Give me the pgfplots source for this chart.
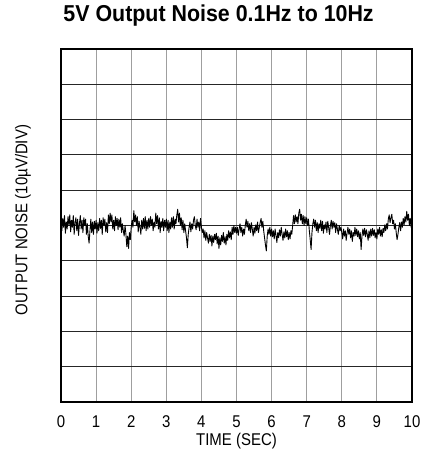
\documentclass[border=0pt]{standalone}
\usepackage{fontspec}
\setmainfont{Liberation Sans}[FakeStretch=0.88]
\newfontfamily\titlefont{Liberation Sans}[FakeStretch=0.93]
\newfontfamily\plainfont{Liberation Sans}
\usepackage{pgfplots}
\usepackage{pgfplotstable}
\pgfplotsset{compat=1.18}

% noise trace, microvolts vs seconds
\pgfplotstableread{
t y
0.000 3.0
0.025 -1.5
0.050 2.0
0.075 -0.5
0.100 2.8
0.125 -2.2
0.150 1.0
0.175 -1.0
0.200 2.5
0.225 0.0
0.250 3.0
0.275 -1.8
0.300 1.5
0.325 -0.5
0.350 2.8
0.375 -2.5
0.400 0.8
0.425 2.2
0.450 -1.5
0.475 1.8
0.500 -2.8
0.525 0.5
0.550 2.8
0.575 -1.0
0.600 1.5
0.625 -2.0
0.650 2.2
0.675 0.0
0.700 1.8
0.725 -2.5
0.750 0.5
0.775 -3.0
0.800 -5.0
0.825 -1.5
0.850 1.8
0.875 -2.0
0.900 1.0
0.925 -2.5
0.950 1.2
0.975 -1.0
1.000 1.5
1.025 -2.2
1.050 0.8
1.075 -1.5
1.100 2.0
1.125 -0.8
1.150 1.5
1.175 -2.5
1.200 2.2
1.225 0.0
1.250 1.8
1.275 -1.8
1.300 0.8
1.325 -2.0
1.350 3.0
1.375 0.5
1.400 3.5
1.425 1.0
1.450 3.0
1.475 -1.0
1.500 1.5
1.525 -1.5
1.550 2.5
1.575 0.0
1.600 2.0
1.625 -1.2
1.650 1.8
1.675 -0.5
1.700 2.2
1.725 -2.0
1.750 0.5
1.775 -1.5
1.800 -3.0
1.825 0.0
1.850 -2.5
1.875 -6.0
1.900 -3.0
1.925 -6.5
1.950 -2.0
1.975 -4.0
2.000 -0.5
2.025 1.5
2.050 -0.5
2.075 4.2
2.100 1.0
2.125 3.0
2.150 0.0
2.175 2.5
2.200 -1.8
2.225 1.2
2.250 -0.5
2.275 -2.5
2.300 1.5
2.325 -1.0
2.350 2.0
2.375 -0.8
2.400 2.5
2.425 -1.5
2.450 1.5
2.475 -1.0
2.500 2.0
2.525 -0.5
2.550 2.5
2.575 0.0
2.600 1.8
2.625 -1.5
2.650 1.0
2.675 -0.5
2.700 3.5
2.725 0.5
2.750 2.8
2.775 -1.0
2.800 2.2
2.825 -2.0
2.850 1.2
2.875 -0.5
2.900 2.0
2.925 -1.5
2.950 1.5
2.975 -0.5
3.000 1.8
3.025 -1.5
3.050 1.5
3.075 -2.0
3.100 1.0
3.125 -1.0
3.150 2.2
3.175 -0.5
3.200 2.5
3.225 -1.0
3.250 1.8
3.275 0.5
3.300 3.0
3.325 4.6
3.350 1.0
3.375 3.5
3.400 0.0
3.425 2.2
3.450 -1.2
3.475 1.5
3.500 -2.0
3.525 0.5
3.550 -1.5
3.575 -3.5
3.600 -6.3
3.625 -2.5
3.650 -0.5
3.675 1.0
3.700 -1.8
3.725 0.5
3.750 -1.0
3.775 1.5
3.800 2.5
3.825 0.0
3.850 -1.2
3.875 1.8
3.900 -0.5
3.925 1.0
3.950 -1.5
3.975 2.0
4.000 -0.5
4.025 -2.0
4.050 -1.0
4.075 -3.5
4.100 -1.5
4.125 -4.2
4.150 -2.0
4.175 -3.5
4.200 -5.0
4.225 -2.5
4.250 -4.5
4.275 -2.8
4.300 -5.8
4.325 -3.0
4.350 -4.8
4.375 -2.5
4.400 -4.0
4.425 -2.2
4.450 -5.2
4.475 -3.0
4.500 -6.5
4.525 -3.5
4.550 -5.5
4.575 -2.8
4.600 -4.5
4.625 -2.0
4.650 -5.0
4.675 -3.2
4.700 -5.5
4.725 -2.5
4.750 -4.2
4.775 -1.5
4.800 -3.5
4.825 -1.8
4.850 -4.0
4.875 -0.5
4.900 -2.5
4.925 0.0
4.950 -2.0
4.975 -0.5
5.000 -2.2
5.025 -0.5
5.050 -2.8
5.075 -1.0
5.100 0.5
5.125 -2.0
5.150 -0.5
5.175 -3.0
5.200 -1.0
5.225 -2.5
5.250 0.0
5.275 1.8
5.300 -0.5
5.325 1.2
5.350 -1.5
5.375 0.5
5.400 -2.0
5.425 0.8
5.450 -1.0
5.475 -3.0
5.500 -0.5
5.525 -2.2
5.550 0.2
5.575 -1.5
5.600 1.0
5.625 -2.0
5.650 -0.5
5.675 0.8
5.700 2.0
5.725 -0.5
5.750 1.2
5.775 -1.5
5.800 -3.5
5.825 -5.5
5.850 -7.2
5.875 -3.0
5.900 -1.0
5.925 -2.5
5.950 -0.5
5.975 -3.0
6.000 -1.0
6.025 -3.2
6.050 -1.5
6.075 -3.8
6.100 -1.0
6.125 -2.8
6.150 -4.8
6.175 -2.0
6.200 -3.5
6.225 -1.2
6.250 -3.0
6.275 -0.5
6.300 -2.5
6.325 -4.2
6.350 -1.8
6.375 -3.5
6.400 -1.0
6.425 -3.2
6.450 -1.5
6.475 -4.0
6.500 -2.0
6.525 -3.8
6.550 -1.5
6.575 -2.5
6.600 0.0
6.625 2.8
6.650 0.5
6.675 3.0
6.700 1.0
6.725 2.5
6.750 0.5
6.775 3.5
6.800 4.6
6.825 1.5
6.850 3.2
6.875 0.5
6.900 2.8
6.925 0.0
6.950 2.5
6.975 0.5
7.000 2.2
7.025 0.0
7.050 1.8
7.075 -1.5
7.100 -4.0
7.125 -6.8
7.150 -2.0
7.175 0.5
7.200 1.8
7.225 -0.5
7.250 1.5
7.275 -1.5
7.300 0.8
7.325 -2.0
7.350 0.5
7.375 -0.8
7.400 1.5
7.425 -1.5
7.450 1.2
7.475 -2.2
7.500 0.2
7.525 -1.0
7.550 1.0
7.575 -2.0
7.600 1.2
7.625 -0.5
7.650 -2.5
7.675 0.0
7.700 1.5
7.725 -1.0
7.750 1.2
7.775 -0.5
7.800 0.8
7.825 -2.0
7.850 0.5
7.875 -1.0
7.900 -2.5
7.925 0.0
7.950 -1.5
7.975 -0.5
8.000 -2.0
8.025 -3.8
8.050 -1.0
8.075 -3.0
8.100 -1.5
8.125 -4.2
8.150 -2.2
8.175 -0.5
8.200 -2.5
8.225 -1.0
8.250 -3.5
8.275 -1.5
8.300 -4.5
8.325 -2.0
8.350 -3.0
8.375 -0.5
8.400 -2.8
8.425 -1.0
8.450 -3.2
8.475 -1.5
8.500 -3.8
8.525 -2.0
8.550 -6.8
8.575 -3.0
8.600 -1.0
8.625 -2.8
8.650 -0.8
8.675 -3.2
8.700 -1.2
8.725 -2.5
8.750 -4.2
8.775 -1.5
8.800 -3.5
8.825 -1.0
8.850 -3.0
8.875 -0.8
8.900 -2.8
8.925 -1.2
8.950 -3.5
8.975 -2.0
9.000 -3.8
9.025 -1.0
9.050 -2.5
9.075 -0.5
9.100 -3.0
9.125 -1.2
9.150 -3.2
9.175 -0.8
9.200 -2.0
9.225 0.2
9.250 -1.5
9.275 0.5
9.300 -1.0
9.325 1.8
9.350 3.0
9.375 0.8
9.400 2.2
9.425 3.2
9.450 0.5
9.475 1.5
9.500 -1.0
9.525 0.5
9.550 -2.0
9.575 -4.0
9.600 -2.5
9.625 -0.5
9.650 0.8
9.675 -1.5
9.700 1.0
9.725 -0.5
9.750 2.0
9.775 0.2
9.800 2.5
9.825 1.0
9.850 4.0
9.875 1.5
9.900 3.2
9.925 0.0
9.950 2.0
9.975 -0.5
10.000 2.5
}\noise

\begin{document}
\begin{tikzpicture}
  \begin{axis}[
      scale only axis,
      width=351pt, height=353pt,
      xmin=0, xmax=10,
      ymin=-50, ymax=50,
      xtick={0,1,...,10},
      ytick={-50,-40,...,50},
      yticklabels={},
      major tick length=0pt,
      grid=major,
      x grid style={gray!75, line width=0.9pt},
      y grid style={black!85, line width=0.9pt},
      axis line style={black, line width=1.4pt},
      /pgf/number format/assume math mode=true,
      xticklabel style={font=\fontsize{17}{20}\selectfont, anchor=base, yshift=-25pt},
      xlabel={TIME (SEC)},
      xlabel style={font=\fontsize{17}{20}\selectfont, at={(axis description cs:0.5,0)}, anchor=base, yshift=-43pt},
      ylabel={OUTPUT NOISE (10µV/DIV)},
      ylabel style={font=\fontsize{17}{20}\selectfont, at={(axis description cs:-0.108,0.515)}, anchor=center},
      title={5V Output Noise 0.1Hz to 10Hz},
      title style={font=\titlefont\bfseries\fontsize{23}{26}\selectfont, at={(axis description cs:0.449,1.062)}, anchor=base},
    ]
    \addplot[black, line width=0.9pt, line join=round] table[x=t, y=y] {\noise};
    % figure code, bottom right
    \node[font=\plainfont\fontsize{11}{13}\selectfont, anchor=base east]
      at (axis description cs:1,0) [yshift=-66pt] {1460 G23};
  \end{axis}
  \path ([shift={(-61pt,-71pt)}]current axis.south west) rectangle ++(427pt,473pt);
\end{tikzpicture}
\end{document}
